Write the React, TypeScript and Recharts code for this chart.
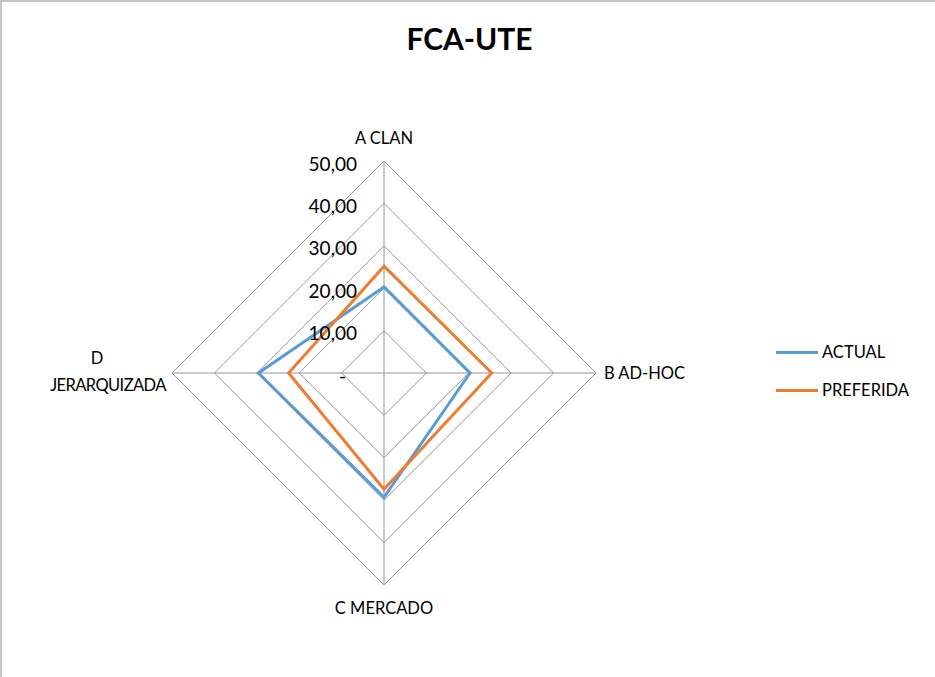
import React from "react";
import { RadarChart, Radar, PolarGrid, PolarAngleAxis, PolarRadiusAxis, Legend } from "recharts";

const categories = ["A CLAN", "B AD-HOC", "C MERCADO", "D JERARQUIZADA"];
const actualValues = [20.3, 20.3, 29.3, 29.6];
const preferidaValues = [25.2, 25.4, 27.4, 22.5];
const radiusTicks = [0, 10, 20, 30, 40, 50];
const radiusTickLabels = ["-", "10,00", "20,00", "30,00", "40,00", "50,00"];
const seriesNames = ["ACTUAL", "PREFERIDA"];

const data = categories.map((c, i) => ({
  category: c,
  actual: actualValues[i],
  preferida: preferidaValues[i],
}));

const FONT = "Lato, 'Open Sans', sans-serif";

const AngleTick = (props: any) => {
  const { x, y, payload } = props;
  const label: string = payload.value;
  const common = { fontFamily: FONT, fontSize: 16.5, fill: "#000" };
  if (label.startsWith("A")) {
    return (
      <text x={x} y={y - 15} textAnchor="middle" dominantBaseline="central" {...common}>
        {label}
      </text>
    );
  }
  if (label.startsWith("B")) {
    return (
      <text x={x} y={y} textAnchor="start" dominantBaseline="central" {...common}>
        {label}
      </text>
    );
  }
  if (label.startsWith("C")) {
    return (
      <text x={x} y={y + 15} textAnchor="middle" dominantBaseline="central" {...common}>
        {label}
      </text>
    );
  }
  const parts = label.split(" ");
  return (
    <g>
      <text x={x - 67} y={y - 15} textAnchor="middle" dominantBaseline="central" {...common}>
        {parts[0]}
      </text>
      <text x={x - 56} y={y + 12} textAnchor="middle" dominantBaseline="central" {...common} letterSpacing={-0.6}>
        {parts.slice(1).join(" ")}
      </text>
    </g>
  );
};

const RadiusTick = (props: any) => {
  const { x, y, payload } = props;
  const idx = radiusTicks.indexOf(payload.value);
  const label = idx >= 0 ? radiusTickLabels[idx] : String(payload.value);
  const isZero = payload.value === 0;
  return (
    <text
      x={isZero ? x - 38 : x - 27}
      y={y + 2}
      textAnchor="end"
      dominantBaseline="central"
      fontFamily={FONT}
      fontSize={19}
      fill="#000"
    >
      {label}
    </text>
  );
};

const LegendContent = (props: any) => {
  const { payload } = props;
  return (
    <div>
      {(payload || []).map((p: any, i: number) => (
        <div key={i} style={{ display: "flex", alignItems: "center", height: 38 }}>
          <div style={{ width: 42, height: 3, background: p.color, marginRight: 4 }} />
          <span style={{ fontFamily: FONT, fontSize: 16.5, color: "#000" }}>{p.value}</span>
        </div>
      ))}
    </div>
  );
};

export default function App() {
  return (
    <div
      style={{
        position: "fixed",
        top: 0,
        left: 0,
        width: 935,
        height: 677,
        background: "#fff",
        boxSizing: "border-box",
        borderTop: "2px solid #c4c4c4",
        borderLeft: "2px solid #c4c4c4",
      }}
    >
      <div
        style={{
          position: "absolute",
          top: 18,
          left: 0,
          width: 935,
          textAlign: "center",
          fontFamily: FONT,
          fontWeight: 700,
          fontSize: 30,
          color: "#000",
        }}
      >
        FCA-UTE
      </div>
      <div style={{ position: "absolute", top: -2, left: -2 }}>
        <RadarChart width={935} height={677} data={data} cx={384} cy={373} outerRadius={212} startAngle={90} endAngle={-270}>
          <PolarGrid gridType="polygon" stroke="#969696" strokeWidth={1} polarRadius={[42.4, 84.8, 127.2, 169.6, 212]} />
          <PolarAngleAxis dataKey="category" tick={<AngleTick />} tickLine={false} axisLine={false} />
          <PolarRadiusAxis
            angle={90}
            domain={[0, 50]}
            ticks={radiusTicks as any}
            tickCount={6}
            tick={<RadiusTick />}
            axisLine={false}
            tickLine={false}
          />
          <Radar
            name={seriesNames[0]}
            dataKey="actual"
            stroke="#5B9BD5"
            strokeWidth={3}
            fill="none"
            fillOpacity={0}
            isAnimationActive={false}
            dot={false}
          />
          <Radar
            name={seriesNames[1]}
            dataKey="preferida"
            stroke="#ED7D31"
            strokeWidth={3}
            fill="none"
            fillOpacity={0}
            isAnimationActive={false}
            dot={false}
          />
          <Legend
            layout="vertical"
            content={<LegendContent />}
            wrapperStyle={{ position: "absolute", left: 776, top: 333, width: 150 }}
          />
        </RadarChart>
      </div>
    </div>
  );
}
